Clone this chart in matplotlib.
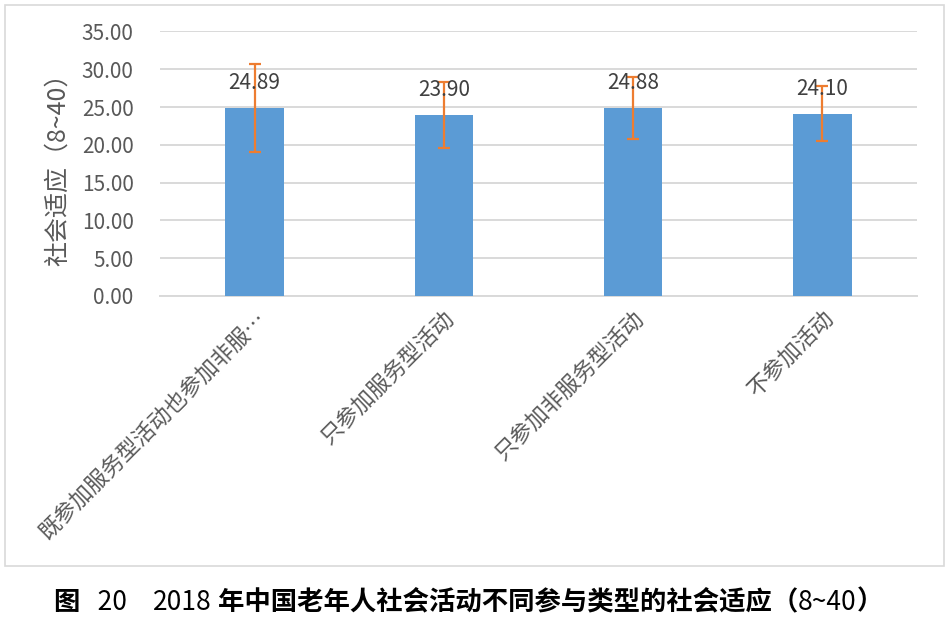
import matplotlib
matplotlib.use("Agg")
import matplotlib.pyplot as plt
from matplotlib.patches import Rectangle

plt.rcParams['font.family'] = ['Noto Sans CJK SC', 'DejaVu Sans']

categories = ["既参加服务型活动也参加非服…", "只参加服务型活动", "只参加非服务型活动", "不参加活动"]
means = [24.89, 23.90, 24.88, 24.10]
sds = [5.80, 4.36, 4.15, 3.62]
yticks = [0, 5, 10, 15, 20, 25, 30, 35]
caption_parts = [("图", 'bold'), ("   20", 'normal'), ("　", 'normal'), ("2018", 'normal'),
                 (" 年中国老年人社会活动不同参与类型的社会适应（", 'bold'),
                 ("8~40", 'normal'), ("）", 'bold')]

fig = plt.figure(figsize=(9.49, 6.17), dpi=100)
ax = fig.add_axes([0.1686, 0.5203, 0.7977, 0.4287])

x = range(len(categories))
ax.bar(x, means, width=0.31, color='#5B9BD5', zorder=3)
ax.errorbar(x, means, yerr=sds, fmt='none', ecolor='#ED7D31', elinewidth=1.6,
            capsize=4.3, capthick=1.6, zorder=4)
for xi, m in zip(x, means):
    ax.annotate(f"{m:.2f}", (xi, m), xytext=(0, 10), textcoords='offset points',
                ha='center', va='bottom', fontsize=15, color='#404040', zorder=5)

ax.set_ylim(0, 35)
ax.set_xlim(-0.5, len(categories) - 0.5)
ax.set_yticks(yticks)
ax.set_yticklabels([f"{t:.2f}" for t in yticks], fontsize=15, color='#595959')
ax.set_xticks(list(x))
ax.set_xticklabels(categories, rotation=45, ha='right', va='top', rotation_mode='anchor',
                   fontsize=16, color='#595959')
ax.tick_params(axis='y', length=0, pad=19)
ax.tick_params(axis='x', length=0, pad=8)
ax.grid(axis='y', color='#d9d9d9', linewidth=1.4, zorder=0)
for s in ['top', 'right', 'left']:
    ax.spines[s].set_visible(False)
ax.spines['bottom'].set_color('#d9d9d9')
ax.spines['bottom'].set_linewidth(1.4)
ax.set_ylabel("社会适应（8~40）", fontsize=18, color='#595959', labelpad=8)

fig.patches.append(Rectangle((5/949, 1 - 566/617), 939/949, 561/617, transform=fig.transFigure,
                             fill=False, edgecolor='#d9d9d9', linewidth=1.2))

# caption with mixed weights
renderer = fig.canvas.get_renderer()
cap_y = 1 - 602/617
texts = []
widths = []
for s, w in caption_parts:
    t = fig.text(0, cap_y, s, ha='left', va='center', fontsize=19, fontweight=w, color='#000000')
    bb = t.get_window_extent(renderer=renderer)
    texts.append(t)
    widths.append(bb.width)
total = sum(widths)
cur = 468 - total / 2
for t, wd in zip(texts, widths):
    t.set_x(cur / 949)
    cur += wd

fig.savefig("out.png", dpi=100, facecolor='white')
